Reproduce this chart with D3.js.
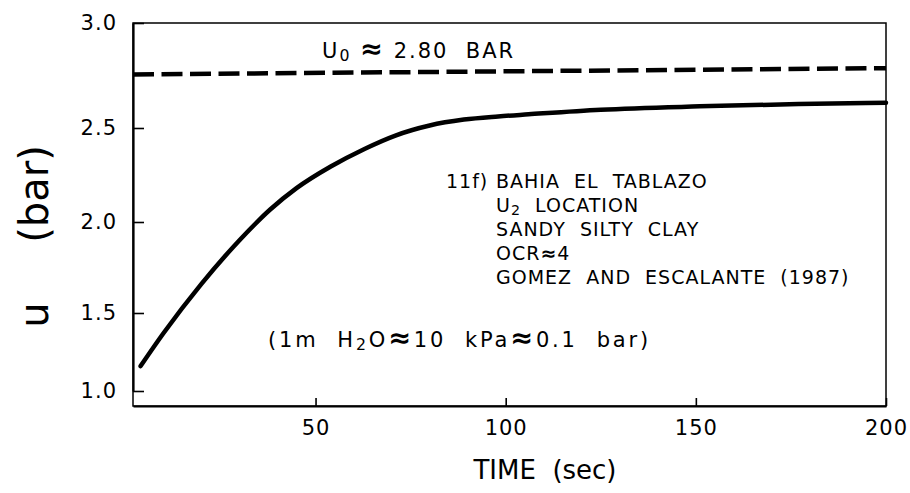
<!DOCTYPE html>
<html>
<head>
<meta charset="utf-8">
<script src="https://cdn.jsdelivr.net/npm/d3@7"></script>
<style>
  body { margin: 0; background: #fff; }
  svg { display: block; font-family: "DejaVu Sans", "Liberation Sans", Arial, sans-serif; }
  text { white-space: pre; fill: #000; }
</style>
</head>
<body>
<div id="chart"></div>
<script>
// measured curve: pore pressure u (bar) against time (sec)
const timeSec = [4, 10, 20, 30, 38, 45, 54, 63, 71, 80, 89, 98, 106, 125, 151, 177, 200];
const uBar = [1.16, 1.37, 1.66, 1.90, 2.065, 2.18, 2.295, 2.39, 2.46, 2.512, 2.54, 2.555, 2.565, 2.587, 2.603, 2.614, 2.62];

// reference level u0 (dashed)
const u0Time = [2, 200];
const u0Value = [2.755, 2.785];

const xTicks = [50, 100, 150, 200];
const yTicks = [1.0, 1.5, 2.0, 2.5, 3.0];

const noteTag = "11f)";
const noteLines = [
  [["BAHIA  EL  TABLAZO"]],
  [["U"], ["2", "sub"], ["  LOCATION"]],
  [["SANDY  SILTY  CLAY"]],
  [["OCR"], ["≈", "sym"], ["4"]],
  [["GOMEZ  AND  ESCALANTE  (1987)"]]
];
const u0Label = [["U"], ["0", "sub"], [" "], ["≈", "sym"], [" 2.80  BAR"]];
const unitLabel = [["(1m  H"], ["2", "sub"], ["O"], ["≈", "sym"], ["10  kPa"], ["≈", "sym"], ["0.1  bar)"]];

const width = 910, height = 493;
const margin = { top: 23, right: 24, bottom: 87, left: 133 };
const x0 = margin.left, x1 = width - margin.right;
const y0 = height - margin.bottom, y1 = margin.top;

const svg = d3.select("#chart").append("svg")
  .attr("width", width)
  .attr("height", height);

const x = d3.scaleLinear().domain([2, 200]).range([x0, x1]);
// the printed axis is not evenly spaced, so the scale follows each tick
const y = d3.scaleLinear().domain(yTicks).range([391, 313, 222, 128, y1]);

function addPieces(textSel, pieces, size, symScale) {
  let back = 0;
  pieces.forEach(p => {
    const t = textSel.append("tspan").text(p[0]);
    if (back) { t.attr("dy", back); back = 0; }
    if (p[1] === "sub") {
      t.attr("font-size", size * 0.75).attr("dy", size * 0.15);
      back = -size * 0.15;
    } else if (p[1] === "sym") {
      t.attr("font-size", size * symScale).attr("font-weight", "bold");
    }
  });
}

// frame
svg.append("rect")
  .attr("x", x0).attr("y", y1)
  .attr("width", x1 - x0).attr("height", y0 - y1)
  .attr("fill", "none").attr("stroke", "#000").attr("stroke-width", 1.5);

const xAxis = d3.axisBottom(x)
  .tickValues(xTicks)
  .tickSizeInner(-8)
  .tickSizeOuter(0)
  .tickPadding(14)
  .tickFormat(d3.format("d"));

const yAxis = d3.axisLeft(y)
  .tickValues(yTicks)
  .tickSizeInner(-11)
  .tickSizeOuter(0)
  .tickPadding(16)
  .tickFormat(d3.format(".1f"));

const gx = svg.append("g").attr("transform", `translate(0,${y0})`).call(xAxis);
const gy = svg.append("g").attr("transform", `translate(${x0},0)`).call(yAxis);

[gx, gy].forEach(g => {
  g.select(".domain").attr("stroke", "#000").attr("stroke-width", 2.2);
  g.selectAll(".tick line").attr("stroke", "#000").attr("stroke-width", 1.6);
  g.selectAll(".tick text")
    .attr("fill", "#000")
    .attr("font-size", 21)
    .attr("font-family", "DejaVu Sans, Liberation Sans, Arial, sans-serif")
    .style("letter-spacing", "1px");
});

// u0 reference line
svg.append("path")
  .datum(u0Time.map((t, i) => [t, u0Value[i]]))
  .attr("fill", "none")
  .attr("stroke", "#000")
  .attr("stroke-width", 4.5)
  .attr("stroke-dasharray", "21,7.5")
  .attr("d", d3.line().x(d => x(d[0])).y(d => y(d[1])));

// measured curve
svg.append("path")
  .datum(timeSec.map((t, i) => [t, uBar[i]]))
  .attr("fill", "none")
  .attr("stroke", "#000")
  .attr("stroke-width", 4.5)
  .attr("stroke-linecap", "round")
  .attr("d", d3.line().curve(d3.curveMonotoneX).x(d => x(d[0])).y(d => y(d[1])));

// labels
const u0Text = svg.append("text").attr("x", 322).attr("y", 58)
  .attr("font-size", 21).style("letter-spacing", "2px");
addPieces(u0Text, u0Label, 21, 1.3);

svg.append("text").attr("x", 446).attr("y", 188).attr("font-size", 19)
  .style("letter-spacing", "1px").text(noteTag);

noteLines.forEach((line, i) => {
  const t = svg.append("text")
    .attr("x", 496)
    .attr("y", 188 + i * 24)
    .attr("font-size", 19)
    .style("letter-spacing", "1px");
  addPieces(t, line, 19, 1.0);
});

const unitText = svg.append("text").attr("x", 268).attr("y", 347)
  .attr("font-size", 21).style("letter-spacing", "2.8px");
addPieces(unitText, unitLabel, 21, 1.3);

svg.append("text")
  .attr("x", 545).attr("y", 479)
  .attr("text-anchor", "middle")
  .attr("font-size", 26)
  .text("TIME  (sec)");

svg.append("text")
  .attr("transform", "translate(48,315) rotate(-90)")
  .attr("text-anchor", "middle")
  .attr("font-size", 40)
  .text("u");

svg.append("text")
  .attr("transform", "translate(48,194) rotate(-90)")
  .attr("text-anchor", "middle")
  .attr("font-size", 40)
  .text("(bar)");
</script>
</body>
</html>
